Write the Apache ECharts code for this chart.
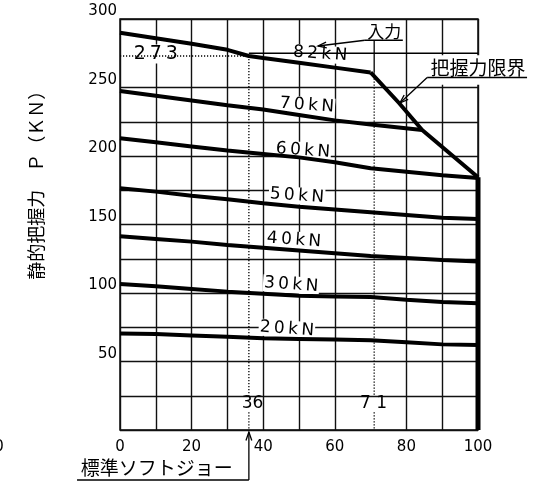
<!DOCTYPE html>
<html>
<head>
<meta charset="utf-8">
<script src="https://cdn.jsdelivr.net/npm/echarts@6/dist/echarts.min.js"></script>
<style>
html, body { margin: 0; background: #fff; }
#chart { width: 547px; height: 483px; }
</style>
</head>
<body>
<div id="chart"></div>
<script>
// gripping force P (kN) against jaw position (%), one line per input force
const curveNames = ['82kN', '70kN', '60kN', '50kN', '40kN', '30kN', '20kN'];
const s82 = [[0, 290], [10, 286], [20, 282], [30, 277.5], [36, 273], [40, 271.5], [50, 268], [60, 264.5], [70, 261]];
const s70 = [[0, 247.5], [10, 244], [20, 240.5], [30, 237], [40, 234], [50, 230], [60, 226], [70, 223], [84.4, 219]];
const s60 = [[0, 213], [10, 210], [20, 207], [30, 204], [40, 201.5], [50, 199], [60, 195.5], [70, 191], [80, 188.5], [90, 186], [100, 184]];
const s50 = [[0, 176.5], [10, 174], [20, 171], [30, 168.5], [40, 165.5], [50, 163], [60, 161], [70, 159], [80, 157], [90, 155], [100, 154]];
const s40 = [[0, 141.5], [10, 139.5], [20, 137.5], [30, 135], [40, 133], [50, 131], [60, 129], [70, 127], [80, 125.5], [90, 124], [100, 123]];
const s30 = [[0, 106.5], [10, 105], [20, 103], [30, 101], [40, 99.5], [50, 98], [60, 97.5], [70, 97], [80, 95], [90, 93.5], [100, 92.5]];
const s20 = [[0, 70.5], [10, 70], [20, 69], [30, 68], [40, 67], [50, 66.5], [60, 66], [70, 65.5], [80, 64], [90, 62.5], [100, 62]];
const gripLimit = [[70, 261], [78, 238.5], [84.4, 219], [100, 184.5]];
const gripEdge = [[100, 184.5], [100, 0]];
const curves = [s82, s70, s60, s50, s40, s30, s20];

const stdJaw = 36;      // 標準ソフトジョー
const inputPos = 71;    // 入力
const value273 = 273;

const FONT = 'DejaVu Sans';
const JP = '"Noto Sans CJK JP"';

var chart = echarts.init(document.getElementById('chart'), null, {renderer: 'canvas'});

var series = curves.map(function (d, i) {
    return {
        name: curveNames[i],
        type: 'line',
        data: d,
        symbol: 'none',
        lineStyle: {color: '#000', width: 4},
        z: 3
    };
});
series.push({name: '把握力限界', type: 'line', data: gripLimit, symbol: 'none', lineStyle: {color: '#000', width: 4}, z: 3});
series.push({name: 'edge', type: 'line', data: gripEdge, symbol: 'none', lineStyle: {color: '#000', width: 5}, z: 3});

// hide the 70 and 275 grid lines, they are drawn by hand below
var xGrid = [];
for (var i = 0; i <= 10; i++) xGrid.push(i === 7 ? 'rgba(0,0,0,0)' : '#111');
var yGrid = [];
for (var j = 0; j <= 12; j++) yGrid.push(j === 11 ? 'rgba(0,0,0,0)' : '#111');

chart.setOption({
    animation: false,
    backgroundColor: '#fff',
    grid: {left: 120, right: 69, top: 19, bottom: 53, show: true, borderColor: '#000', borderWidth: 1.4},
    xAxis: {
        type: 'value', min: 0, max: 100, interval: 10,
        axisLine: {show: false}, axisTick: {show: false},
        axisLabel: {
            color: '#000', fontFamily: FONT, fontSize: 15, margin: 10,
            formatter: function (v) { return v % 20 === 0 ? String(v) : ''; }
        },
        splitLine: {show: true, lineStyle: {color: xGrid, width: 1.4}}
    },
    yAxis: {
        type: 'value', min: 0, max: 300, interval: 25,
        axisLine: {show: false}, axisTick: {show: false},
        axisLabel: {
            color: '#000', fontFamily: FONT, fontSize: 15, margin: 3, verticalAlign: 'bottom',
            formatter: function (v) { return (v % 50 === 0 && v > 0) ? String(v) : ''; }
        },
        splitLine: {show: true, lineStyle: {color: yGrid, width: 1.4}}
    },
    series: series
});

function P(x, y) { return chart.convertToPixel({gridIndex: 0}, [x, y]); }

// the drawing uses widely spaced lettering
function spaced(s) { return s.split('').join('\u2009'); }

function seg(a, b, dotted, w) {
    return {
        type: 'line', z: 5,
        shape: {x1: a[0], y1: a[1], x2: b[0], y2: b[1]},
        style: {stroke: '#000', lineWidth: w || 1.3, lineDash: dotted ? [1.2, 1.8] : null}
    };
}

function head(tip, from) {
    var ang = Math.atan2(from[1] - tip[1], from[0] - tip[0]);
    var L = 9, s = 0.33;
    return {
        type: 'polyline', z: 5,
        shape: {points: [
            [tip[0] + L * Math.cos(ang + s), tip[1] + L * Math.sin(ang + s)],
            tip,
            [tip[0] + L * Math.cos(ang - s), tip[1] + L * Math.sin(ang - s)]
        ]},
        style: {stroke: '#000', lineWidth: 1.3, fill: null}
    };
}

function txt(p, s, size, font, extra) {
    var el = {
        type: 'text', z: 4, x: p[0], y: p[1],
        style: {text: s, fill: '#000', fontSize: size, fontFamily: font, align: 'center', verticalAlign: 'middle'}
    };
    if (extra) {
        if (extra.rotation) el.rotation = extra.rotation;
        if (extra.bg) { el.style.backgroundColor = '#fff'; el.style.padding = [0, 1]; }
        if (extra.z != null) el.z = extra.z;
    }
    return el;
}

// where each force label sits, in chart units
var labelAt = [[55.9, 274.5], [52.2, 237], [51.1, 204], [49.4, 171], [48.6, 138.7], [47.8, 106], [46.6, 73.7]];

var g = [];
// labels sit above the grid but under the curves
curveNames.forEach(function (n, i) {
    g.push(txt(P(labelAt[i][0], labelAt[i][1]), spaced(n), 17, FONT, {rotation: -0.07, bg: true, z: 1}));
});

// 273 leader and 36 line
g.push(seg(P(0, value273), P(stdJaw, value273), true));
g.push(txt(P(10, 274.5), spaced(String(value273)), 19, FONT, {bg: true, z: 1}));
g.push(seg(P(stdJaw, value273), P(stdJaw, 25), true));
g.push(seg(P(stdJaw, 13), P(stdJaw, 0), true));
g.push(txt(P(37, 19.5), String(stdJaw), 17, FONT));
g.push(seg(P(stdJaw, 275), P(100, 275), false, 1.4));

// 71 line
g.push(seg(P(inputPos, 284.5), P(inputPos, 261), false));
g.push(seg(P(inputPos, 261), P(inputPos, 25), true));
g.push(seg(P(inputPos, 13), P(inputPos, 0), true));
g.push(txt(P(70.8, 19.5), '7 1', 17, FONT));

// 入力
g.push(txt(P(73.8, 291), '入力', 17, JP));
g.push(seg(P(68.4, 284.5), P(79, 284.5), false));
g.push(seg(P(68.4, 284.5), P(55.3, 280.3), false));
g.push(head(P(55.3, 280.3), P(68.4, 284.5)));

// 把握力限界
var boxA = P(85.5, 273.5), boxB = P(114.5, 252);
g.push({type: 'rect', z: 2, shape: {x: boxA[0], y: boxA[1], width: boxB[0] - boxA[0], height: boxB[1] - boxA[1]}, style: {fill: '#fff'}});
g.push(txt(P(100, 264.6), '把握力限界', 19, JP));
g.push(seg(P(85.8, 257.3), P(113.7, 257.3), false));
g.push(seg(P(85.8, 257.3), P(78.2, 238.7), false));
g.push(head(P(78.2, 238.7), P(85.8, 257.3)));

// 標準ソフトジョー arrow under the axis
g.push(seg(P(stdJaw, -36.5), P(stdJaw, -1.5), false));
g.push(head(P(stdJaw, -1.5), P(stdJaw, -36.5)));
g.push(seg(P(-12, -36.5), P(stdJaw, -36.5), false));
g.push(txt(P(10.3, -27.5), '標準ソフトジョー', 19, JP));

// axis title
g.push(txt(P(-23.5, 182), '静的把握力　Ｐ（ＫＮ）', 18, JP, {rotation: Math.PI / 2}));

// edge of the neighbouring figure
g.push(txt(P(-33.8, -12.5), '0', 15, FONT));

chart.setOption({graphic: g});
</script>
</body>
</html>
